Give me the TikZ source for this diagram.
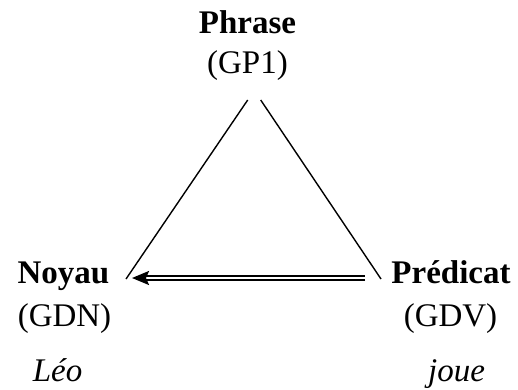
\documentclass[tikz,border=0pt]{standalone}
\usepackage{fontspec}
\setmainfont{Liberation Serif}
\usetikzlibrary{arrows.meta}
\begin{document}
\begin{tikzpicture}[x=1pt,y=-1pt,
  lbl/.style={anchor=base,inner sep=0pt,font=\fontsize{33}{40}\selectfont},
  side/.style={line width=1.4pt},
  dbl/.style={double,double distance=2.2pt,line width=2pt}]
\useasboundingbox (0,0) rectangle (518,389);
\node[lbl] (phr) at (247.5,33) {\textbf{Phrase}};
\node[lbl] (gp1) at (247.5,73) {(GP1)};
\node[lbl] (noy) at (63.5,283) {\textbf{Noyau}};
\node[lbl] (gdn) at (64.5,326) {(GDN)};
\node[lbl] (leo) at (57.5,381) {\textit{Léo}};
\node[lbl] (pred) at (451,283) {\textbf{Prédicat}};
\node[lbl] (gdv) at (450.5,326) {(GDV)};
\node[lbl] (joue) at (456.5,381) {\textit{joue}};
\coordinate (tl) at (247.7,100);
\coordinate (tr) at (260.7,100);
\coordinate (bl) at (126,279);
\coordinate (br) at (381,279);
\coordinate (as) at (365,278);
\coordinate (ae) at (132,278);
\draw[side] (tl) -- (bl);
\draw[side] (tr) -- (br);
\draw[dbl,-{Stealth[length=17pt,width=14pt,inset=3pt]}] (as) -- (ae);
\end{tikzpicture}
\end{document}
